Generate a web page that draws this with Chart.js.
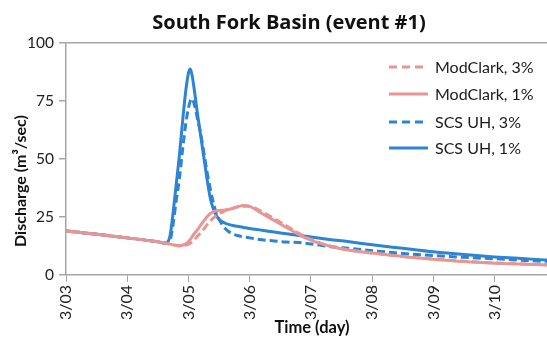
<!DOCTYPE html>
<html>
<head>
<meta charset="utf-8">
<script src="https://cdn.jsdelivr.net/npm/chart.js@4.4.0/dist/chart.umd.min.js"></script>
<style>
  html, body { margin: 0; padding: 0; background: #fff; overflow: hidden; }
  #wrap { width: 578px; height: 338px; }
</style>
</head>
<body>
<div id="wrap"><canvas id="chart" width="578" height="338"></canvas></div>
<script>
// time in days after 3/03 00:00
var timeDays = [0, 0.5, 1.0, 1.5, 1.63, 1.7, 1.75, 1.8, 1.85, 1.9, 1.95, 2.0, 2.03, 2.06, 2.1, 2.15, 2.2, 2.25, 2.3, 2.35, 2.4, 2.45, 2.5, 2.6, 2.7, 2.8, 2.9, 3.0, 3.2, 3.4, 3.6, 3.8, 4.0, 4.3, 4.6, 5.0, 5.5, 6.0, 6.5, 7.0, 7.5, 7.9, 8.3];

var modClark3 = [19, 17.6, 16, 14.3, 13.7, 13.4, 13.1, 12.8, 12.6, 12.6, 12.8, 13.3, 13.7, 14.3, 15.3, 16.8, 18.2, 19.8, 21.5, 23, 24.4, 25.5, 26.3, 27.8, 28.6, 29.3, 29.6, 29.6, 27.3, 24.3, 21.2, 18, 15.3, 12.6, 10.9, 9.5, 8, 6.9, 5.9, 5.2, 4.7, 4.4, 4.2];
var modClark1 = [19, 17.6, 16, 14.3, 13.7, 13.3, 13, 12.7, 12.6, 12.8, 13.3, 14.4, 15.3, 16.5, 18, 19.6, 21.5, 23.3, 25, 26.3, 27.2, 27.6, 27.8, 28, 28.5, 29.4, 30, 29.6, 26.5, 23.5, 20.5, 17.5, 15, 12.5, 10.8, 9.5, 8, 6.8, 5.8, 5.1, 4.6, 4.3, 4.1];
var scs3 = [19, 17.6, 16, 14.3, 13.7, 15, 22, 32, 41, 53, 64, 72, 75, 76, 73, 67, 61, 53, 45, 38, 32, 27, 24, 20, 18, 17, 16.4, 16, 15.2, 14.7, 14.2, 14, 13.4, 12.3, 11.5, 10.5, 9.3, 8.4, 7.6, 7, 6.3, 5.8, 5.5];
var scs1 = [19, 17.6, 16, 14.3, 13.7, 17, 27, 39, 51, 65, 78, 87, 88.8, 86, 79, 69, 60, 51, 42, 34, 29, 26, 24, 22.3, 21.5, 21, 20.5, 20, 19.3, 18.5, 17.8, 17, 16.4, 15.3, 14.4, 13, 11.5, 10, 8.8, 7.8, 7, 6.4, 6.0];

var dayLabels = ['3/03', '3/04', '3/05', '3/06', '3/07', '3/08', '3/09', '3/10', '3/11'];

var pink = 'rgb(232,150,148)';
var blue = 'rgb(46,132,212)';
var axisGray = '#a6a6a6';

function pts(vals) {
    return timeDays.map(function(t, i) { return { x: t, y: vals[i] }; });
}

// legend in the upper right of the plot, and the two axis titles
var extras = {
    id: 'extras',
    afterDatasetsDraw: function(chart) {
        var c = chart.ctx;
        var rows = [67, 94, 122, 148];
        c.save();
        chart.data.datasets.forEach(function(ds, i) {
            var y = rows[i];
            c.strokeStyle = ds.borderColor;
            c.lineWidth = 3;
            c.setLineDash(ds.borderDash ? [8, 5] : []);
            c.beginPath();
            c.moveTo(389, y);
            c.lineTo(428, y);
            c.stroke();
            c.setLineDash([]);
            c.fillStyle = '#1a1a1a';
            c.font = '16px Lato';
            c.textBaseline = 'middle';
            c.textAlign = 'left';
            c.fillText(ds.label, 435, y + 1);
        });

        c.fillStyle = '#111';
        c.font = 'bold 16.5px Lato';
        c.textAlign = 'center';
        c.textBaseline = 'middle';
        c.fillText('Time (day)', 312, 328);

        c.translate(21, 181);
        c.rotate(-Math.PI / 2);
        c.font = 'bold 16px Lato';
        c.fillText('Discharge (m³/sec)', 0, 0);
        c.restore();
    }
};

var ctx = document.getElementById('chart').getContext('2d');
var chart = new Chart(ctx, {
    type: 'line',
    data: {
        datasets: [
            { label: 'ModClark, 3%', data: pts(modClark3), borderColor: pink, borderDash: [8, 4] },
            { label: 'ModClark, 1%', data: pts(modClark1), borderColor: pink },
            { label: 'SCS UH, 3%', data: pts(scs3), borderColor: blue, borderDash: [8, 4] },
            { label: 'SCS UH, 1%', data: pts(scs1), borderColor: blue }
        ]
    },
    options: {
        responsive: false,
        animation: false,
        layout: { padding: 0 },
        elements: {
            point: { radius: 0 },
            line: { borderWidth: 3, fill: false, cubicInterpolationMode: 'monotone' }
        },
        plugins: {
            legend: { display: false },
            tooltip: { enabled: false },
            title: {
                display: true,
                text: 'South Fork Basin (event #1)',
                color: '#111',
                font: { family: 'Open Sans', size: 20, weight: 'bold' },
                padding: { top: 11, bottom: 8 }
            }
        },
        scales: {
            x: {
                type: 'linear',
                min: 0,
                max: 8.3,
                ticks: {
                    stepSize: 1,
                    autoSkip: false,
                    minRotation: 90,
                    maxRotation: 90,
                    padding: 3,
                    color: '#222',
                    font: { family: 'Lato', size: 16 },
                    callback: function(v) { return dayLabels[v]; }
                },
                grid: { drawOnChartArea: false, tickLength: 7, color: axisGray },
                border: { color: axisGray, width: 1.5 },
                afterFit: function(s) { s.height = 63; }
            },
            y: {
                min: 0,
                max: 100,
                ticks: {
                    stepSize: 25,
                    color: '#222',
                    padding: 5,
                    font: { family: 'Lato', size: 15.5 }
                },
                grid: {
                    tickLength: 7,
                    tickColor: axisGray,
                    color: function(c) { return c.tick && c.tick.value === 100 ? axisGray : 'rgba(0,0,0,0)'; },
                    lineWidth: 1.5
                },
                border: { color: axisGray, width: 1.5 },
                afterFit: function(s) { s.width = 66; }
            }
        }
    },
    plugins: [extras]
});
</script>
</body>
</html>
